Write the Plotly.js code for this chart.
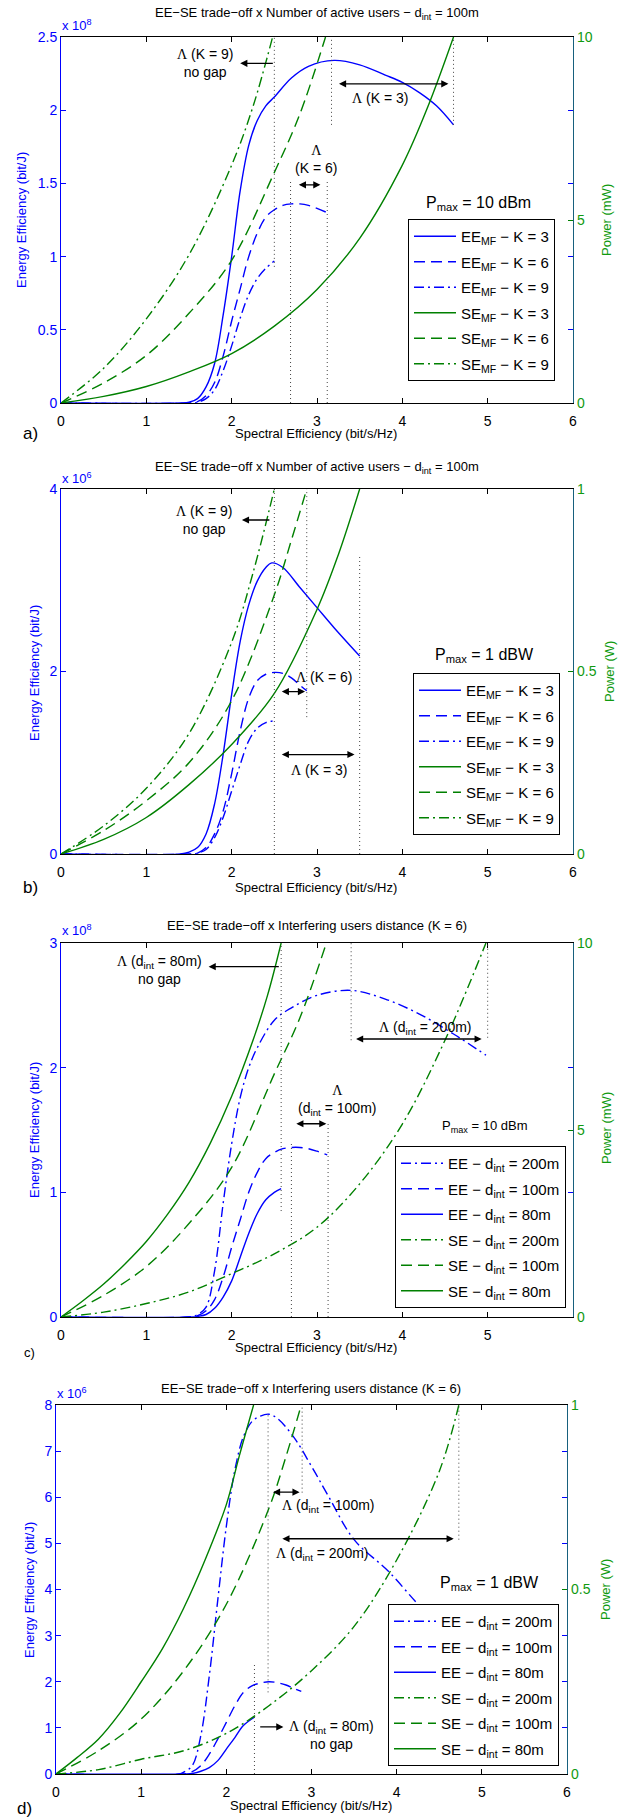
<!DOCTYPE html>
<html>
<head>
<meta charset="utf-8">
<script src="https://cdn.plot.ly/plotly-3.0.1.min.js"></script>
<style>html,body{margin:0;padding:0;background:#fff;}</style>
</head>
<body>
<div id="chart" style="width:627px;height:1818px;"></div>
<script>
// ---------------- DATA ----------------
// Panel a) EE in x10^8 bit/J (left axis), power in mW (right axis), d_int = 100 m, Pmax = 10 dBm
const a_ee3_x = [0,1.4,1.5,1.6,1.7,1.8,1.9,2.0,2.1,2.2,2.3,2.4,2.5,2.7,2.9,3.2,3.5,3.8,4.0,4.2,4.4,4.6];
const a_ee3_y = [0,0,0.005,0.03,0.11,0.27,0.6,1.0,1.45,1.76,1.93,2.03,2.09,2.22,2.30,2.34,2.31,2.24,2.19,2.12,2.03,1.90];
const a_ee6_x = [0,1.5,1.6,1.7,1.8,1.9,2.0,2.1,2.2,2.3,2.4,2.5,2.6,2.7,2.8,2.9,3.0,3.12];
const a_ee6_y = [0,0,0.01,0.05,0.14,0.32,0.56,0.78,1.0,1.16,1.27,1.32,1.35,1.36,1.36,1.35,1.33,1.30];
const a_ee9_x = [0,1.55,1.6,1.7,1.8,1.9,2.0,2.1,2.2,2.3,2.4,2.5];
const a_ee9_y = [0,0,0.005,0.03,0.09,0.22,0.39,0.58,0.74,0.85,0.92,0.97];
const a_se3_x = [0,0.5,1,1.5,2,2.5,3,3.5,4,4.3,4.6];
const a_se3_y = [0,0.18,0.45,0.85,1.35,2.1,3.1,4.5,6.5,8.1,10];
const a_se6_x = [0,0.5,1,1.5,2,2.5,2.8,3.1];
const a_se6_y = [0,0.55,1.3,2.45,3.9,6.3,7.9,10];
const a_se9_x = [0,0.5,1,1.5,2,2.25,2.48];
const a_se9_y = [0,0.95,2.3,4.05,6.5,8.1,10];
const a_gap_x  = [2.5, 2.69, 3.12, 3.17, 4.6];
const a_gap_y0 = [0.93, 0, 0, 1.9, 1.9];
const a_gap_y1 = [2.5, 1.52, 1.51, 2.5, 2.5];

// Panel b) EE in x10^6 bit/J, power in W, Pmax = 1 dBW
const b_ee3_x = [0,1.4,1.5,1.6,1.7,1.8,1.9,2.0,2.1,2.2,2.3,2.4,2.47,2.6,2.8,3.0,3.2,3.5];
const b_ee3_y = [0,0,0.02,0.07,0.22,0.55,1.09,1.75,2.33,2.73,2.99,3.14,3.19,3.14,2.92,2.70,2.48,2.17];
const b_ee6_x = [0,1.5,1.6,1.7,1.8,1.9,2.0,2.1,2.2,2.3,2.4,2.5,2.6,2.7,2.8,2.88];
const b_ee6_y = [0,0,0.01,0.07,0.22,0.47,0.88,1.35,1.71,1.90,1.97,1.99,1.98,1.93,1.85,1.79];
const b_ee9_x = [0,1.55,1.6,1.7,1.8,1.9,2.0,2.1,2.2,2.3,2.4,2.5];
const b_ee9_y = [0,0,0.01,0.05,0.18,0.40,0.69,0.98,1.24,1.38,1.44,1.46];
const b_se3_x = [0,0.5,1,1.5,2,2.5,3,3.25,3.5];
const b_se3_y = [0,0.04,0.10,0.19,0.30,0.44,0.67,0.82,1.0];
const b_se6_x = [0,0.5,1,1.5,2,2.5,2.7,2.88];
const b_se6_y = [0,0.064,0.146,0.25,0.42,0.71,0.86,1.0];
const b_se9_x = [0,0.5,1,1.5,2,2.25,2.5];
const b_se9_y = [0,0.077,0.18,0.33,0.58,0.77,1.0];
const b_gap_x  = [2.5, 2.88, 3.5];
const b_gap_y0 = [0, 1.5, 0];
const b_gap_y1 = [4, 4, 3.26];

// Panel c) EE in x10^8 bit/J, power in mW, K = 6, Pmax = 10 dBm
const c_ee200_x = [0,1.5,1.6,1.7,1.8,1.9,2.0,2.1,2.2,2.3,2.5,2.7,3.0,3.4,3.8,4.2,4.6,4.98];
const c_ee200_y = [0,0,0.02,0.08,0.37,0.91,1.39,1.76,2.0,2.16,2.38,2.48,2.58,2.62,2.55,2.43,2.27,2.10];
const c_ee100_x = [0,1.5,1.6,1.7,1.8,1.9,2.0,2.1,2.2,2.3,2.4,2.5,2.6,2.7,2.8,2.9,3.0,3.12];
const c_ee100_y = [0,0,0.01,0.05,0.14,0.32,0.56,0.78,1.0,1.16,1.27,1.32,1.35,1.36,1.36,1.35,1.33,1.30];
const c_ee80_x  = [0,1.55,1.6,1.7,1.8,1.9,2.0,2.1,2.2,2.3,2.4,2.5,2.58];
const c_ee80_y  = [0,0,0.005,0.02,0.07,0.16,0.29,0.48,0.67,0.83,0.94,1.0,1.03];
const c_se200_x = [0,0.5,1,1.5,2,2.5,3,3.5,4,4.5,4.98];
const c_se200_y = [0,0.13,0.36,0.67,1.16,1.69,2.4,3.56,5.16,7.4,10];
const c_se100_x = [0,0.5,1,1.5,2,2.5,2.8,3.11];
const c_se100_y = [0,0.58,1.35,2.5,4.0,6.5,8.0,10];
const c_se80_x  = [0,0.25,0.5,0.75,1,1.25,1.5,1.75,2,2.25,2.42,2.58];
const c_se80_y  = [0,0.42,0.88,1.42,2.02,2.75,3.6,4.65,5.9,7.4,8.6,10];
const c_gap_x  = [2.58, 2.7, 3.13, 3.4, 5.0];
const c_gap_y0 = [0.85, 0, 0, 2.22, 2.24];
const c_gap_y1 = [3, 1.39, 1.55, 3, 3];

// Panel d) EE in x10^6 bit/J, power in W, K = 6, Pmax = 1 dBW
const d_ee200_x = [0,1.45,1.5,1.6,1.7,1.8,1.9,2.0,2.1,2.2,2.3,2.4,2.5,2.6,2.8,3.0,3.2,3.5,3.9,4.25,4.5,4.73];
const d_ee200_y = [0,0,0.04,0.18,0.83,2.13,3.78,5.37,6.59,7.31,7.64,7.76,7.8,7.71,7.28,6.67,6.02,5.08,4.4,3.68,3.2,2.8];
const d_ee100_x = [0,1.5,1.6,1.7,1.8,1.9,2.0,2.1,2.2,2.3,2.4,2.5,2.6,2.7,2.8,2.88];
const d_ee100_y = [0,0,0.05,0.18,0.43,0.76,1.12,1.48,1.77,1.91,1.97,2.0,1.98,1.93,1.85,1.79];
const d_ee80_x  = [0,1.5,1.6,1.7,1.8,1.9,2.0,2.1,2.2,2.33];
const d_ee80_y  = [0,0,0.01,0.06,0.14,0.29,0.54,0.79,1.05,1.23];
const d_se200_x = [0,0.5,1,1.5,2,2.5,3,3.5,4,4.5,4.73];
const d_se200_y = [0,0.012,0.04,0.063,0.11,0.185,0.28,0.40,0.58,0.82,1.0];
const d_se100_x = [0,0.5,1,1.5,2,2.5,2.7,2.88];
const d_se100_y = [0,0.063,0.149,0.28,0.46,0.72,0.86,1.0];
const d_se80_x  = [0,0.25,0.5,0.75,1,1.25,1.5,1.75,2,2.15,2.32];
const d_se80_y  = [0,0.045,0.095,0.165,0.25,0.34,0.45,0.58,0.73,0.86,1.0];
const d_gap_x  = [2.49, 2.89, 2.33, 4.73];
const d_gap_y0 = [1.77, 6.1, 0, 5.08];
const d_gap_y1 = [7.8, 8, 2.38, 8];

// ---------------- STYLE ----------------
const W = 627, H = 1818;
const FONT = 'Liberation Sans, Arial, sans-serif';
const SERIF = 'Liberation Serif, Times New Roman, serif';
const BLUE = '#0000ff', GREEN = '#008000', GLAB = '#109a10', RAX = '#17607d';
const DASH = '11px,6px', DASHDOT = '10px,4px,2px,4px';
const LW = 1.4;
const px = v => v / W;
const py = v => 1 - v / H;

let gid = 0;
function tr(x, y, name, color, dash, xa, ya, leg) {
  gid += 1;
  return {type:'scatter', mode:'lines', x:x, y:y, name:name, xaxis:xa, yaxis:ya, legend:leg,
          legendgroup:'g' + gid,
          line:{color:color, width:LW, dash:dash, shape:'spline', smoothing:1}, hoverinfo:'skip'};
}
const L = '<span style="font-family:' + SERIF + '">Λ</span>';
const EEMF = k => 'EE<sub>MF</sub> − K = ' + k;
const SEMF = k => 'SE<sub>MF</sub> − K = ' + k;
const EED = d => 'EE − d<sub>int</sub> = ' + d;
const SED = d => 'SE − d<sub>int</sub> = ' + d;

const data = [
  tr(a_ee3_x, a_ee3_y, EEMF(3), BLUE, 'solid', 'x', 'y', 'legend'),
  tr(a_ee6_x, a_ee6_y, EEMF(6), BLUE, DASH, 'x', 'y', 'legend'),
  tr(a_ee9_x, a_ee9_y, EEMF(9), BLUE, DASHDOT, 'x', 'y', 'legend'),
  tr(a_se3_x, a_se3_y, SEMF(3), GREEN, 'solid', 'x', 'y2', 'legend'),
  tr(a_se6_x, a_se6_y, SEMF(6), GREEN, DASH, 'x', 'y2', 'legend'),
  tr(a_se9_x, a_se9_y, SEMF(9), GREEN, DASHDOT, 'x', 'y2', 'legend'),

  tr(b_ee3_x, b_ee3_y, EEMF(3), BLUE, 'solid', 'x2', 'y3', 'legend2'),
  tr(b_ee6_x, b_ee6_y, EEMF(6), BLUE, DASH, 'x2', 'y3', 'legend2'),
  tr(b_ee9_x, b_ee9_y, EEMF(9), BLUE, DASHDOT, 'x2', 'y3', 'legend2'),
  tr(b_se3_x, b_se3_y, SEMF(3), GREEN, 'solid', 'x2', 'y4', 'legend2'),
  tr(b_se6_x, b_se6_y, SEMF(6), GREEN, DASH, 'x2', 'y4', 'legend2'),
  tr(b_se9_x, b_se9_y, SEMF(9), GREEN, DASHDOT, 'x2', 'y4', 'legend2'),

  tr(c_ee200_x, c_ee200_y, EED('200m'), BLUE, DASHDOT, 'x3', 'y5', 'legend3'),
  tr(c_ee100_x, c_ee100_y, EED('100m'), BLUE, DASH, 'x3', 'y5', 'legend3'),
  tr(c_ee80_x, c_ee80_y, EED('80m'), BLUE, 'solid', 'x3', 'y5', 'legend3'),
  tr(c_se200_x, c_se200_y, SED('200m'), GREEN, DASHDOT, 'x3', 'y6', 'legend3'),
  tr(c_se100_x, c_se100_y, SED('100m'), GREEN, DASH, 'x3', 'y6', 'legend3'),
  tr(c_se80_x, c_se80_y, SED('80m'), GREEN, 'solid', 'x3', 'y6', 'legend3'),

  tr(d_ee200_x, d_ee200_y, EED('200m'), BLUE, DASHDOT, 'x4', 'y7', 'legend4'),
  tr(d_ee100_x, d_ee100_y, EED('100m'), BLUE, DASH, 'x4', 'y7', 'legend4'),
  tr(d_ee80_x, d_ee80_y, EED('80m'), BLUE, 'solid', 'x4', 'y7', 'legend4'),
  tr(d_se200_x, d_se200_y, SED('200m'), GREEN, DASHDOT, 'x4', 'y8', 'legend4'),
  tr(d_se100_x, d_se100_y, SED('100m'), GREEN, DASH, 'x4', 'y8', 'legend4'),
  tr(d_se80_x, d_se80_y, SED('80m'), GREEN, 'solid', 'x4', 'y8', 'legend4')
];

// ---------------- AXES ----------------
function xAxis(x0, x1, anchor, ticktext) {
  const ax = {domain:[px(x0), px(x1)], anchor:anchor, range:[0,6], tickvals:[0,1,2,3,4,5,6],
    ticks:'inside', ticklen:5, tickcolor:'#000', showline:true, linecolor:'#000', linewidth:1,
    mirror:'ticks', showgrid:false, zeroline:false, fixedrange:true, ticklabelstandoff:5,
    tickfont:{family:FONT, size:14, color:'#000'}};
  if (ticktext) ax.ticktext = ticktext;
  return ax;
}
function yLeft(y0, y1, anchor, range, tickvals) {
  return {domain:[py(y1), py(y0)], anchor:anchor, range:range, tickvals:tickvals,
    ticks:'inside', ticklen:5, tickcolor:BLUE, showline:true, linecolor:BLUE, linewidth:1,
    mirror:'ticks', showgrid:false, zeroline:false, fixedrange:true,
    tickfont:{family:FONT, size:14, color:BLUE}};
}
function yRight(over, anchor, range, tickvals) {
  return {overlaying:over, side:'right', anchor:anchor, range:range, tickvals:tickvals,
    ticks:'inside', ticklen:5, tickcolor:GREEN, showline:true, linecolor:RAX, linewidth:1.2,
    showgrid:false, zeroline:false, fixedrange:true,
    tickfont:{family:FONT, size:14, color:GLAB}};
}

// ---------------- SHAPES (dotted gap markers) ----------------
const shapes = [];
function gaps(xs, y0s, y1s, xref, yref) {
  xs.forEach((v, i) => shapes.push({type:'line', xref:xref, yref:yref, x0:v, x1:v, y0:y0s[i], y1:y1s[i],
    line:{color:'#444', width:1, dash:'1px,3px'}}));
}
gaps(a_gap_x, a_gap_y0, a_gap_y1, 'x', 'y');
gaps(b_gap_x, b_gap_y0, b_gap_y1, 'x2', 'y3');
gaps(c_gap_x, c_gap_y0, c_gap_y1, 'x3', 'y5');
gaps(d_gap_x, d_gap_y0, d_gap_y1, 'x4', 'y7');

// ---------------- ANNOTATIONS ----------------
const ann = [];
function txt(x, y, text, xref, yref, size, color, xanchor, angle) {
  ann.push({x:x, y:y, xref:xref, yref:yref, text:text, showarrow:false,
    xanchor:xanchor || 'center', yanchor:'middle', textangle:angle || 0,
    font:{family:FONT, size:size || 14, color:color || '#000'}});
}
function arrow(xh, yh, xt, yt, xref, yref, both) {
  ann.push({x:xh, y:yh, ax:xt, ay:yt, xref:xref, yref:yref, axref:xref, ayref:yref, text:'',
    showarrow:true, arrowhead:2, arrowsize:1.1, arrowwidth:1.3, arrowcolor:'#000',
    arrowside: both ? 'end+start' : 'end', standoff:0, startstandoff:0});
}
// titles
const T1 = 'EE−SE trade−off x Number of active users − d<sub>int</sub> = 100m';
const T2 = 'EE−SE trade−off x Interfering users distance (K = 6)';
txt(px(317), py(14), T1, 'paper', 'paper', 13);
txt(px(317), py(467), T1, 'paper', 'paper', 13);
txt(px(317), py(925), T2, 'paper', 'paper', 13);
txt(px(311), py(1388), T2, 'paper', 'paper', 13);
// axis titles
const XT = 'Spectral Efficiency (bit/s/Hz)', YT = 'Energy Efficiency (bit/J)';
txt(px(316), py(434), XT, 'paper', 'paper', 13);
txt(px(316), py(887), XT, 'paper', 'paper', 13);
txt(px(316), py(1347), XT, 'paper', 'paper', 13);
txt(px(311), py(1805), XT, 'paper', 'paper', 13);
txt(px(21), py(220), YT, 'paper', 'paper', 13, BLUE, 'center', -90);
txt(px(34), py(673), YT, 'paper', 'paper', 13, BLUE, 'center', -90);
txt(px(34), py(1130), YT, 'paper', 'paper', 13, BLUE, 'center', -90);
txt(px(29), py(1590), YT, 'paper', 'paper', 13, BLUE, 'center', -90);
txt(px(606), py(220), 'Power (mW)', 'paper', 'paper', 13, GLAB, 'center', -90);
txt(px(609), py(672), 'Power (W)', 'paper', 'paper', 13, GLAB, 'center', -90);
txt(px(606), py(1128), 'Power (mW)', 'paper', 'paper', 13, GLAB, 'center', -90);
txt(px(605), py(1590), 'Power (W)', 'paper', 'paper', 13, GLAB, 'center', -90);
// exponents
txt(px(60), py(25), 'x 10<sup>8</sup>', 'paper', 'paper', 13, BLUE, 'left');
txt(px(60), py(478), 'x 10<sup>6</sup>', 'paper', 'paper', 13, BLUE, 'left');
txt(px(60), py(930), 'x 10<sup>8</sup>', 'paper', 'paper', 13, BLUE, 'left');
txt(px(55), py(1393), 'x 10<sup>6</sup>', 'paper', 'paper', 13, BLUE, 'left');
// panel letters
txt(px(30), py(434), 'a)', 'paper', 'paper', 17);
txt(px(30), py(887), 'b)', 'paper', 'paper', 17);
txt(px(29), py(1352), 'c)', 'paper', 'paper', 13);
txt(px(24), py(1808), 'd)', 'paper', 'paper', 17);

// panel a
txt(1.69, 2.32, L + ' (K = 9)<br>no gap', 'x', 'y');
arrow(2.1, 2.32, 2.5, 2.32, 'x', 'y', false);
txt(3.74, 2.08, L + ' (K = 3)', 'x', 'y');
arrow(4.54, 2.18, 3.24, 2.18, 'x', 'y', true);
txt(2.99, 1.66, L + '<br>(K = 6)', 'x', 'y');
arrow(3.04, 1.49, 2.77, 1.49, 'x', 'y', true);
txt(4.89, 1.36, 'P<sub>max</sub> = 10 dBm', 'x', 'y', 16);
// panel b
txt(1.68, 3.66, L + ' (K = 9)<br>no gap', 'x2', 'y3');
arrow(2.12, 3.66, 2.46, 3.66, 'x2', 'y3', false);
txt(3.08, 1.94, L + ' (K = 6)', 'x2', 'y3');
arrow(2.86, 1.78, 2.57, 1.78, 'x2', 'y3', true);
txt(3.02, 0.92, L + ' (K = 3)', 'x2', 'y3');
arrow(3.44, 1.09, 2.57, 1.09, 'x2', 'y3', true);
txt(4.96, 2.17, 'P<sub>max</sub> = 1 dBW', 'x2', 'y3', 16);
// panel c
txt(1.16, 2.78, L + ' (d<sub>int</sub> = 80m)<br>no gap', 'x3', 'y5');
arrow(1.73, 2.81, 2.57, 2.81, 'x3', 'y5', false);
txt(4.27, 2.32, L + ' (d<sub>int</sub> = 200m)', 'x3', 'y5');
arrow(4.93, 2.23, 3.44, 2.23, 'x3', 'y5', true);
txt(3.23, 1.74, L + '<br>(d<sub>int</sub> = 100m)', 'x3', 'y5');
arrow(3.11, 1.55, 2.74, 1.55, 'x3', 'y5', true);
txt(4.96, 1.53, 'P<sub>max</sub> = 10 dBm', 'x3', 'y5', 13);
// panel d
txt(3.2, 5.8, L + ' (d<sub>int</sub> = 100m)', 'x4', 'y7');
arrow(2.86, 6.11, 2.53, 6.11, 'x4', 'y7', true);
txt(3.13, 4.76, L + ' (d<sub>int</sub> = 200m)', 'x4', 'y7');
arrow(4.67, 5.1, 2.64, 5.1, 'x4', 'y7', true);
txt(3.23, 0.84, L + ' (d<sub>int</sub> = 80m)<br>no gap', 'x4', 'y7');
arrow(2.67, 1.02, 2.38, 1.02, 'x4', 'y7', false);
txt(5.09, 4.14, 'P<sub>max</sub> = 1 dBW', 'x4', 'y7', 16);

// ---------------- LEGENDS ----------------
function leg(x, y) {
  return {x:px(x), y:py(y), xanchor:'left', yanchor:'top', bgcolor:'#fff', bordercolor:'#000',
    borderwidth:1, font:{family:FONT, size:15, color:'#000'}, traceorder:'grouped', tracegroupgap:3,
    itemwidth:42};
}

const layout = {
  width:W, height:H, margin:{l:0, r:0, t:0, b:0}, autosize:false,
  paper_bgcolor:'#fff', plot_bgcolor:'#fff', showlegend:true, hovermode:false,
  font:{family:FONT, size:13, color:'#000'},
  xaxis:  xAxis(61, 573, 'y'),
  yaxis:  yLeft(37, 403, 'x', [0,2.5], [0,0.5,1,1.5,2,2.5]),
  yaxis2: yRight('y', 'x', [0,10], [0,5,10]),
  xaxis2: xAxis(61, 573, 'y3'),
  yaxis3: yLeft(489, 854, 'x2', [0,4], [0,2,4]),
  yaxis4: yRight('y3', 'x2', [0,1], [0,0.5,1]),
  xaxis3: xAxis(61, 573, 'y5', ['0','1','2','3','4','5','']),
  yaxis5: yLeft(943, 1317, 'x3', [0,3], [0,1,2,3]),
  yaxis6: yRight('y5', 'x3', [0,10], [0,5,10]),
  xaxis4: xAxis(56, 567, 'y7'),
  yaxis7: yLeft(1405, 1774, 'x4', [0,8], [0,1,2,3,4,5,6,7,8]),
  yaxis8: yRight('y7', 'x4', [0,1], [0,0.5,1]),
  legend:  leg(408, 219),
  legend2: leg(413, 673),
  legend3: leg(395, 1146),
  legend4: leg(388, 1604),
  shapes: shapes,
  annotations: ann
};

Plotly.newPlot('chart', data, layout, {staticPlot:true, displayModeBar:false});
</script>
</body>
</html>
